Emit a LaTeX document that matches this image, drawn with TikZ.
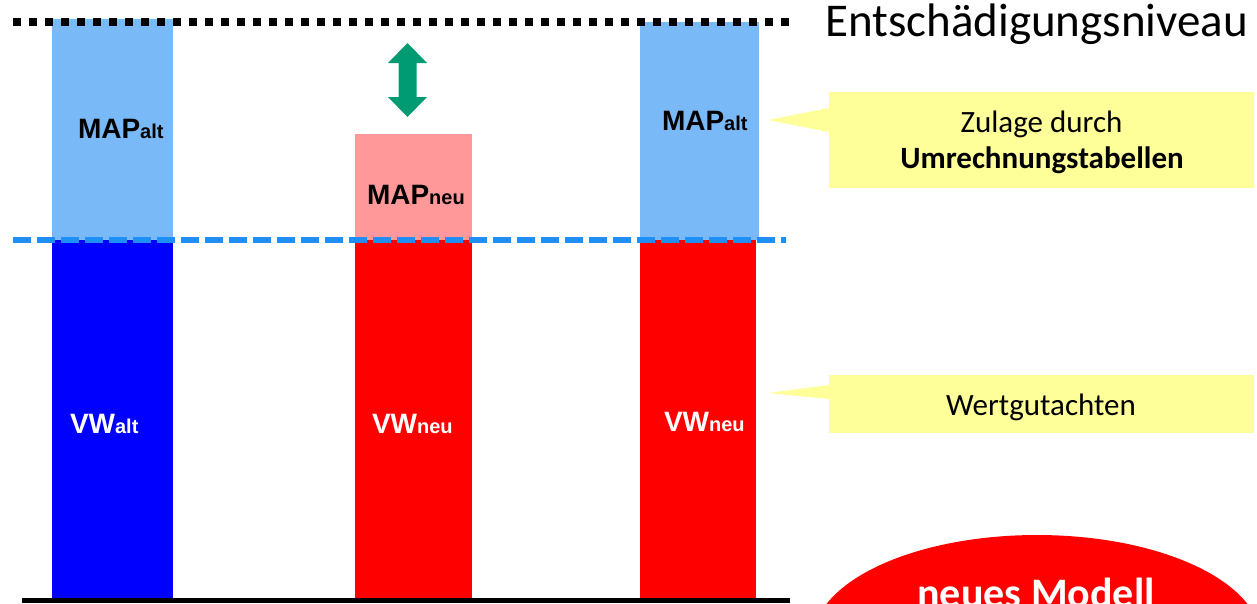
\documentclass[tikz,border=0pt]{standalone}
\usepackage{fontspec}
\setmainfont{Carlito}
\newfontfamily\arialfont{Liberation Sans}
\usetikzlibrary{shapes.geometric}
\definecolor{mapblue}{RGB}{121,185,247}
\definecolor{vwblue}{RGB}{0,0,255}
\definecolor{vwred}{RGB}{255,0,0}
\definecolor{mappink}{RGB}{255,153,153}
\definecolor{calloutyellow}{RGB}{255,255,153}
\definecolor{levelblue}{RGB}{30,144,245}
\definecolor{arrowgreen}{RGB}{0,155,115}
\tikzset{
  barbox/.style={inner sep=0pt, outer sep=0pt, anchor=north west, draw=none},
  barlabel/.style={inner sep=0pt, outer sep=0pt, anchor=base west, font=\arialfont\bfseries\fontsize{28}{30}\selectfont},
  calloutbox/.style={inner sep=0pt, outer sep=0pt, anchor=north west, fill=calloutyellow, minimum width=425pt},
  callouttext/.style={inner sep=0pt, outer sep=0pt, anchor=base, font=\fontsize{31}{33}\selectfont},
}
\newcommand{\lowsub}[1]{{\fontsize{20}{20}\selectfont #1}}
\begin{document}
\begin{tikzpicture}[x=1pt,y=-1pt]
\useasboundingbox (0,0) rectangle (1257,603);
\clip (0,0) rectangle (1257,603);

% bars
\node[barbox, fill=mapblue, minimum width=121pt, minimum height=221pt] (map1) at (52,19) {};
\node[barbox, fill=vwblue, minimum width=121pt, minimum height=361pt] (vw1) at (52,240) {};
\node[barbox, fill=mappink, minimum width=117pt, minimum height=106pt] (map2) at (355,134) {};
\node[barbox, fill=vwred, minimum width=117pt, minimum height=361pt] (vw2) at (355,240) {};
\node[barbox, fill=mapblue, minimum width=119pt, minimum height=218pt] (map3) at (640,22) {};
\node[barbox, fill=vwred, minimum width=116pt, minimum height=361pt] (vw3) at (640,240) {};

% bar labels
\node[barlabel] (lmap1) at (78,138) {MAP\lowsub{alt}};
\node[barlabel] (lmap2) at (367,204) {MAP\lowsub{neu}};
\node[barlabel] (lmap3) at (662,130) {MAP\lowsub{alt}};
\node[barlabel, text=white] (lvw1) at (70,433) {VW\lowsub{alt}};
\node[barlabel, text=white] (lvw2) at (372,433) {VW\lowsub{neu}};
\node[barlabel, text=white] (lvw3) at (664,431) {VW\lowsub{neu}};

% level lines
\coordinate (dotL) at (13,22);
\coordinate (dotR) at (790,22);
\draw[line width=8pt, dash pattern=on 8pt off 8pt] (dotL) -- (dotR);
\coordinate (dashL) at (40/3,240);
\coordinate (dashR) at (786,240);
\draw[levelblue, line width=6pt, dash pattern=on 18pt off 6pt] (dashL) -- (dashR);
\coordinate (baseL) at (22,600.5);
\coordinate (baseR) at (790,600.5);
\draw[line width=5pt] (baseL) -- (baseR);

% level label
\node[inner sep=0pt, anchor=base west, font=\fontsize{47}{50}\selectfont] (niveau) at (825,36) {Entschädigungsniveau};

% green double arrow
\fill[arrowgreen] (407.5,43) -- (427,63) -- (416.5,63) -- (416.5,97) -- (427,97) -- (407.5,117)
  -- (388,97) -- (398.5,97) -- (398.5,63) -- (388,63) -- cycle;

% callout 1
\node[calloutbox, minimum height=96pt] (call1) at (829,92) {};
\coordinate (tip1) at (768,120);
\fill[calloutyellow] (call1.north west |- 0,108) -- (tip1) -- (call1.north west |- 0,132) -- cycle;
\node[callouttext] (t1a) at (1041.5,132) {Zulage durch};
\node[callouttext, font=\bfseries\fontsize{31}{33}\selectfont] (t1b) at (1042,168) {Umrechnungstabellen};

% callout 2
\node[calloutbox, minimum height=58pt] (call2) at (829,375) {};
\coordinate (tip2) at (768,393);
\fill[calloutyellow] (call2.north west |- 0,385) -- (tip2) -- (call2.north west |- 0,399) -- cycle;
\node[callouttext] (t2) at (1041,415) {Wertgutachten};

% new model ellipse
\node[ellipse, fill=vwred, minimum width=448pt, minimum height=210pt, inner sep=0pt] (modell) at (1037,640) {};
\node[inner sep=0pt, anchor=base, text=white, font=\bfseries\fontsize{42}{44}\selectfont] (tmodell) at (1036,607) {neues Modell};
\end{tikzpicture}
\end{document}
